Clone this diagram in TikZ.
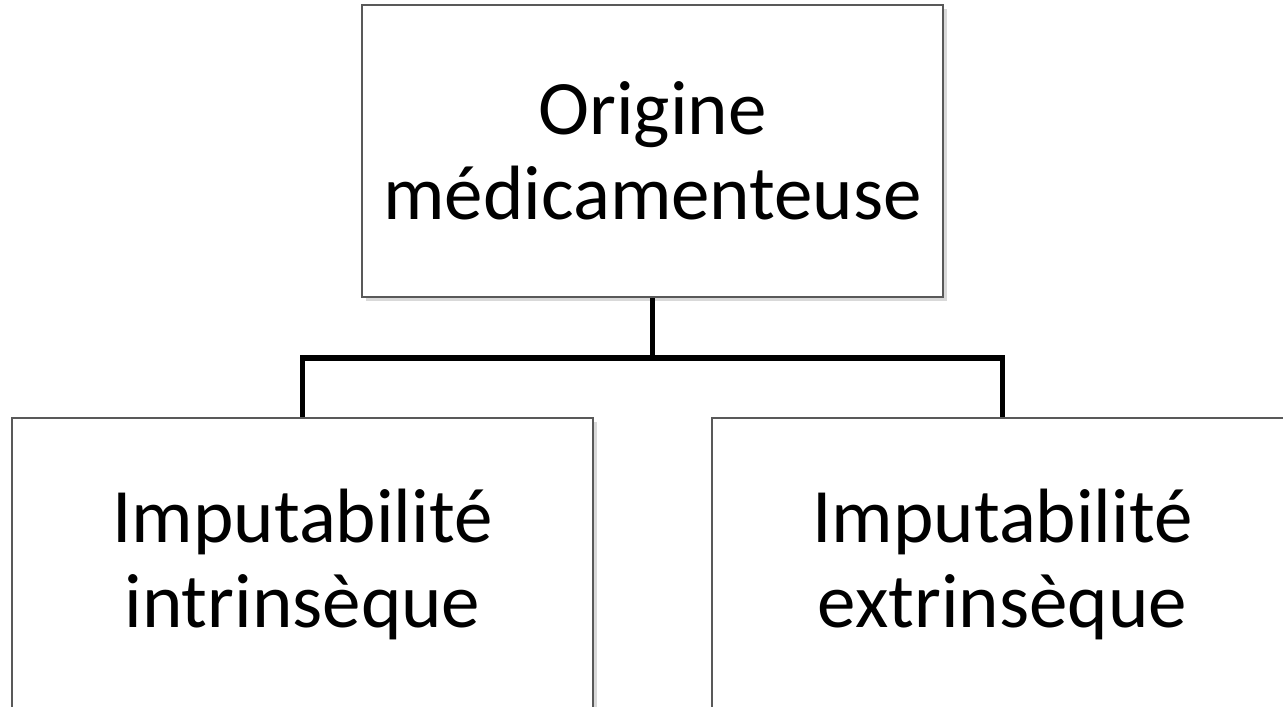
\documentclass[tikz,border=0pt]{standalone}
\usepackage{fontspec}
\setmainfont{Carlito}
\usetikzlibrary{shadows}
\tikzset{
  boite/.style={draw=gray!70!black, line width=1pt, fill=white,
    minimum width=290.5pt, minimum height=146pt, align=center,
    font=\fontsize{38.5}{42.5}\selectfont,
    drop shadow={shadow xshift=1.8pt, shadow yshift=-1.8pt, opacity=0.3}},
  lien/.style={line width=2.6pt}
}
\begin{document}
\begin{tikzpicture}[x=0.5pt, y=-0.5pt, line join=miter]
  \useasboundingbox (0,0) rectangle (1283,706);
  \clip (0,0) rectangle (1283,706);
  % boites
  \node[boite] (origine) at (652.5,151) {Origine\\médicamenteuse};
  \node[boite] (intrinseque) at (302.5,564) {Imputabilité\\intrinsèque};
  \node[boite] (extrinseque) at (1002.5,564) {Imputabilité\\extrinsèque};
  % liens
  \draw[lien] (origine.south) -- ++(0,60) coordinate (fourche);
  \draw[lien] (fourche) -| (intrinseque.north);
  \draw[lien] (fourche) -| (extrinseque.north);
\end{tikzpicture}
\end{document}
